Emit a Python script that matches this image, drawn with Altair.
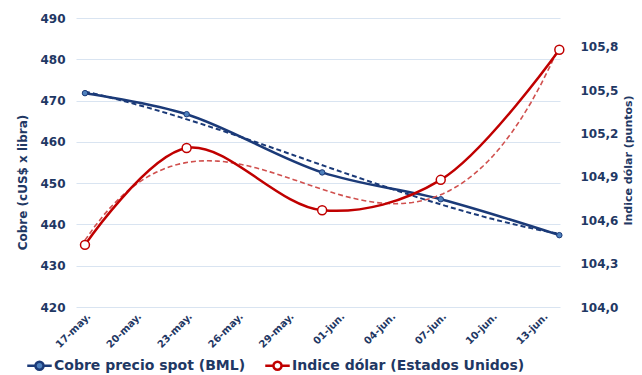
import altair as alt
import pandas as pd

# ---- data ----
dias = [0, 6, 14, 21, 28]          # days since 17-may
fechas = ["17-may.", "23-may.", "31-may.", "07-jun.", "14-jun."]
cobre = [471.8, 466.7, 452.6, 446.1, 437.4]        # cUS$ x libra
indice = [104.43, 105.10, 104.67, 104.88, 105.78]  # puntos

tick_dias = [0, 3, 6, 9, 12, 15, 18, 21, 24, 27]
tick_labels = ["17-may.", "20-may.", "23-may.", "26-may.", "29-may.",
               "01-jun.", "04-jun.", "07-jun.", "10-jun.", "13-jun."]
left_ticks = [420, 430, 440, 450, 460, 470, 480, 490]
right_ticks = [104.0, 104.3, 104.6, 104.9, 105.2, 105.5, 105.8]

S_COBRE = "Cobre precio spot (BML)"
S_INDICE = "Indice dólar (Estados Unidos)"

rows = []
for d, f, c, i in zip(dias, fechas, cobre, indice):
    rows.append({"day": d, "fecha": f, "value": c, "series": S_COBRE})
    rows.append({"day": d, "fecha": f, "value": i, "series": S_INDICE})
df = pd.DataFrame(rows)

NAVY = "#1B3A78"
RED = "#C00000"
RED_TREND = "#D0504E"
TXT = "#1F3864"
FONT = "DejaVu Sans"

label_arr = "[" + ",".join("'" + t + "'" for t in tick_labels) + "]"

x_enc = alt.X(
    "day:Q",
    scale=alt.Scale(domain=[-0.53, 28.04], nice=False, zero=False),
    axis=alt.Axis(
        values=tick_dias, labelExpr=label_arr + "[round(datum.value/3)]",
        labelAngle=-45, labelAlign="right", labelBaseline="top",
        labelPadding=4, labelFontSize=10, labelFontWeight="bold",
        labelColor=TXT, labelFont=FONT, grid=False, domain=False, ticks=False,
        title=None,
    ),
)

y_left = alt.Y(
    "value:Q",
    scale=alt.Scale(domain=[420, 490], nice=False, zero=False),
    axis=alt.Axis(
        values=left_ticks, grid=True, gridColor="#D9E4F1", gridWidth=1,
        domain=False, ticks=False, labelPadding=11, labelFontSize=12,
        labelFontWeight="bold", labelColor=TXT, labelFont=FONT,
        title="Cobre (cUS$ x libra)", titleFontSize=12, titleFontWeight="bold",
        titleColor=TXT, titleFont=FONT, titleAngle=-90, titleAlign="center",
        titleBaseline="middle", titleX=-54, titleY=164,
    ),
)

y_right = alt.Y(
    "value:Q",
    scale=alt.Scale(domain=[104.0, 106.0], nice=False, zero=False),
    axis=alt.Axis(
        orient="right", values=right_ticks, grid=False, domain=False,
        ticks=False, labelPadding=20, labelFontSize=12, labelFontWeight="bold",
        labelColor=TXT, labelFont=FONT,
        labelExpr="replace(format(datum.value, '.1f'), '.', ',')",
        title="Indice dólar (puntos)", titleFontSize=11, titleFontWeight="bold",
        titleColor=TXT, titleFont=FONT, titleAngle=-90, titleAlign="center",
        titleBaseline="middle", titleX=68, titleY=142,
    ),
)

legend_path = ("M-1,0 L-0.33,0 M0.33,0 L1,0 "
               "M0.33,0 A0.33,0.33 0 1,1 -0.33,0 A0.33,0.33 0 1,1 0.33,0 Z")

def make_legend():
    return alt.Legend(
        title=None, orient="none", direction="horizontal",
        legendX=-50, legendY=334, symbolType=legend_path, symbolSize=600,
        symbolStrokeWidth=2.5, labelFontSize=14, labelFontWeight="bold",
        labelColor=TXT, labelFont=FONT, columnPadding=14, labelOffset=1,
        labelLimit=400,
    )

stroke_enc = alt.Stroke(
    "series:N",
    scale=alt.Scale(domain=[S_COBRE, S_INDICE], range=[NAVY, RED]),
    legend=make_legend(),
)
fill_enc = alt.Fill(
    "series:N",
    scale=alt.Scale(domain=[S_COBRE, S_INDICE], range=["#4F81BD", "#FFFFFF"]),
    legend=make_legend(),
)

base = alt.Chart(df)

c_src = base.transform_filter(alt.datum.series == S_COBRE)
i_src = base.transform_filter(alt.datum.series == S_INDICE)

c_trend = c_src.transform_regression("day", "value", method="poly", order=3).mark_line(
    strokeDash=[5, 3], strokeWidth=2, color=NAVY
).encode(x=x_enc, y=y_left)
c_line = c_src.mark_line(interpolate="catmull-rom", strokeWidth=2.5).encode(
    x=x_enc, y=y_left, stroke=stroke_enc)
c_pts = c_src.mark_point(filled=False, size=30, strokeWidth=1, opacity=1).encode(
    x=x_enc, y=y_left, stroke=stroke_enc, fill=fill_enc)

i_trend = i_src.transform_regression("day", "value", method="poly", order=3).mark_line(
    strokeDash=[5, 3], strokeWidth=1.6, color=RED_TREND
).encode(x=x_enc, y=y_right)
i_line = i_src.mark_line(interpolate="catmull-rom", strokeWidth=2.5).encode(
    x=x_enc, y=y_right, stroke=stroke_enc)
i_pts = i_src.mark_point(filled=False, size=80, strokeWidth=1.5, opacity=1).encode(
    x=x_enc, y=y_right, stroke=stroke_enc, fill=fill_enc)

left = alt.layer(c_trend, c_line, c_pts)
right = alt.layer(i_trend, i_line, i_pts)

chart = alt.layer(left, right).resolve_scale(y="independent").properties(
    width=484, height=289,
    autosize=alt.AutoSizeParams(type="none"),
    padding={"left": 76, "top": 18, "right": 82, "bottom": 68},
    background="white",
).configure_view(stroke=None)

chart.save("out.html", embed_options={"renderer": "svg", "actions": False})
